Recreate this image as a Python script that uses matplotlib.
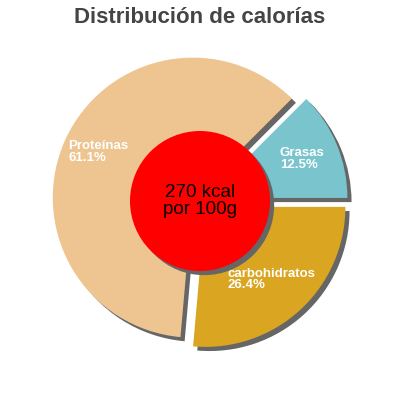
import matplotlib
matplotlib.use("Agg")
import matplotlib.pyplot as plt
import matplotlib.patheffects as pe
from matplotlib.patches import Circle

plt.rcParams['font.family'] = ['Liberation Sans', 'DejaVu Sans']

labels = ["Grasas", "Proteínas", "carbohidratos"]
percents = [12.5, 61.1, 26.4]
colors = ["#7AC5CD", "#EEC591", "#DAA520"]
kcal = 270

# where each label sits (data units, pie radius = 1)
label_pos = [(0.57, 0.30), (-0.94, 0.35), (0.20, -0.56)]

fig = plt.figure(figsize=(4, 4), dpi=100)
ax = fig.add_axes([0, 0, 1, 1])
shadow = [pe.SimplePatchShadow(offset=(3, -3), shadow_rgbFace="#666666", alpha=1), pe.Normal()]

wedges, _ = ax.pie(percents, colors=colors, startangle=0, counterclock=True,
                   explode=[0.057] * 3, radius=1, center=(0, 0))
for w in wedges:
    w.set_path_effects(shadow)

circ = Circle((0, 0), 0.5, facecolor="#FF0000", edgecolor="none", zorder=5)
circ.set_path_effects(shadow)
ax.add_patch(circ)
ax.text(0, 0, f"{kcal} kcal\npor 100g", ha="center", va="center",
        fontsize=13.5, color="black", zorder=6, linespacing=1.0)

for (x, y), lab, p in zip(label_pos, labels, percents):
    ax.text(x, y, f"{lab}\n{p}%", ha="left", va="center", fontsize=9.5,
            color="white", fontweight="bold", zorder=6, linespacing=0.95)

ax.set_xlim(-200 / 140, 200 / 140)
ax.set_ylim(-199 / 140, 201 / 140)
ax.set_aspect("equal")
ax.axis("off")

fig.text(0.5, 0.957, "Distribución de calorías", ha="center", va="center",
         fontsize=16, fontweight="bold", color="#444444")

fig.savefig("out.png", dpi=100)
